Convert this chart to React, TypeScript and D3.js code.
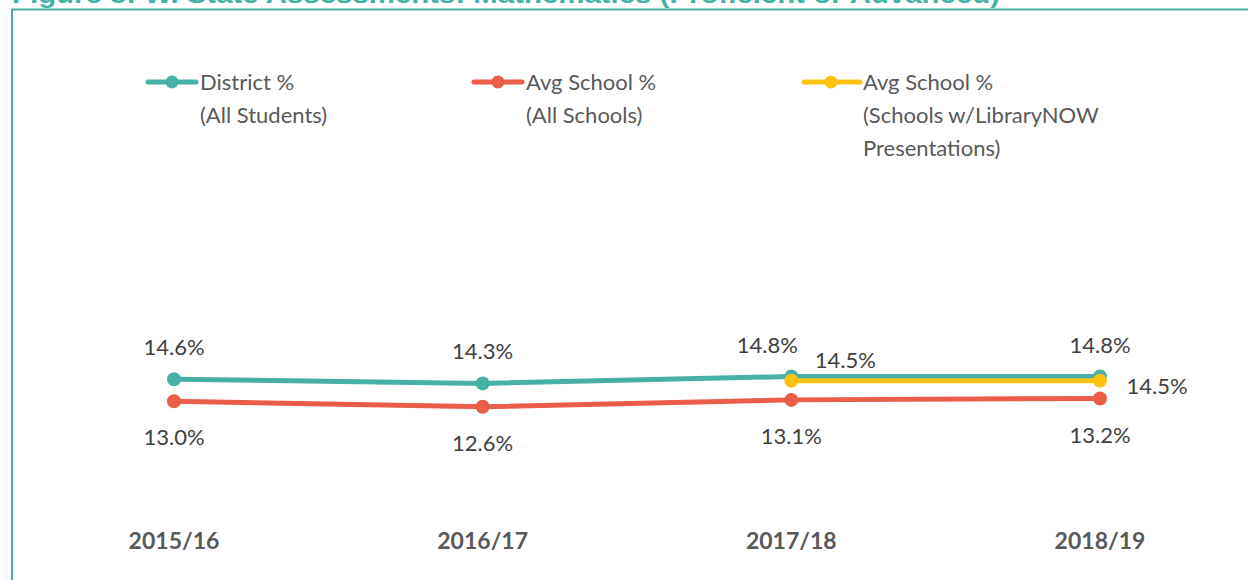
import React from 'react'
import { scalePoint, scaleLinear, line } from 'd3'

const years = ['2015/16', '2016/17', '2017/18', '2018/19']
const district = [14.6, 14.3, 14.8, 14.8]
const avgSchool = [13.0, 12.6, 13.1, 13.2]
const libraryNow = [null, null, 14.5, 14.5]

const teal = '#47B1A7'
const red = '#E95D4A'
const yellow = '#FFC20E'
const font = 'Lato, "Open Sans", sans-serif'

export default function App() {
  const width = 1248
  const height = 580

  const x = scalePoint().domain(years).range([174, 1100])
  const y = scaleLinear().domain([0, 40]).range([580, 30])

  const mkLine = line<any>()
    .defined(d => d.v != null)
    .x(d => x(d.year)!)
    .y(d => y(d.v))

  const rows = (vals: (number | null)[]) => years.map((year, i) => ({ year, v: vals[i] }))

  // label offsets for the crowded 2017/18 column
  const distDx = [0, 0, -24, 0]
  const yellowDx = [0, 0, 54, 57]
  const yellowDy = [0, 0, -20, 6]

  const legend = [
    { color: teal, x: 148, lines: ['District %', '(All Students)'] },
    { color: red, x: 474, lines: ['Avg School %', '(All Schools)'] },
    { color: yellow, x: 804, lines: ['Avg School %', '(Schools w/LibraryNOW', 'Presentations)'] },
  ]

  return (
    <svg width={width} height={height} style={{ position: 'absolute', left: 0, top: 0 }}>
      <rect width={width} height={height} fill="#fff" />
      <text x={12} y={3} fill="#47B1A7" fontFamily='"Liberation Sans", Arial, sans-serif'
        fontWeight="bold" fontSize={26} textLength={988} lengthAdjust="spacingAndGlyphs">Figure 8: W. State Assessments: Mathematics (Proficient or Advanced)</text>
      <path d={`M12,${height + 5} V9.5 H${width + 5}`} fill="none" stroke="#47B1A7" strokeWidth={2} />

      {legend.map((l, i) => (
        <g key={i}>
          <line x1={l.x} x2={l.x + (i === 2 ? 56 : 48)} y1={82} y2={82} stroke={l.color} strokeWidth={5} strokeLinecap="round" />
          <circle cx={l.x + (i === 2 ? 27 : 24)} cy={82} r={6.5} fill={l.color} />
          {l.lines.map((t, j) => (
            <text key={j} x={l.x + (i === 2 ? 59 : 52)} y={90 + j * 33} fill="#595959" fontFamily={font} fontSize={22}>{t}</text>
          ))}
        </g>
      ))}

      <path d={mkLine(rows(district))!} fill="none" stroke={teal} strokeWidth={5} />
      {district.map((v, i) => (
        <circle key={i} cx={x(years[i])} cy={y(v)} r={7} fill={teal} />
      ))}
      <path d={mkLine(rows(avgSchool))!} fill="none" stroke={red} strokeWidth={5} />
      {avgSchool.map((v, i) => (
        <circle key={i} cx={x(years[i])} cy={y(v)} r={7} fill={red} />
      ))}
      <path d={mkLine(rows(libraryNow))!} fill="none" stroke={yellow} strokeWidth={5} />
      {libraryNow.map((v, i) => v == null ? null : (
        <circle key={i} cx={x(years[i])} cy={y(v)} r={7} fill={yellow} />
      ))}

      <g fontFamily={font} fontSize={22} fill="#404040" textAnchor="middle">
        {district.map((v, i) => (
          <text key={i} x={x(years[i])! + distDx[i]} y={y(v) - 24}>{v.toFixed(1)}%</text>
        ))}
        {avgSchool.map((v, i) => (
          <text key={i} x={x(years[i])} y={y(v) + 44}>{v.toFixed(1)}%</text>
        ))}
        {libraryNow.map((v, i) => v == null ? null : (
          <text key={i} x={x(years[i])! + yellowDx[i]} y={y(v) + yellowDy[i] + 7}>{v.toFixed(1)}%</text>
        ))}
      </g>

      <g fontFamily={font} fontSize={23} fontWeight="bold" fill="#595959" textAnchor="middle">
        {years.map(yr => (
          <text key={yr} x={x(yr)} y={549}>{yr}</text>
        ))}
      </g>
    </svg>
  )
}
